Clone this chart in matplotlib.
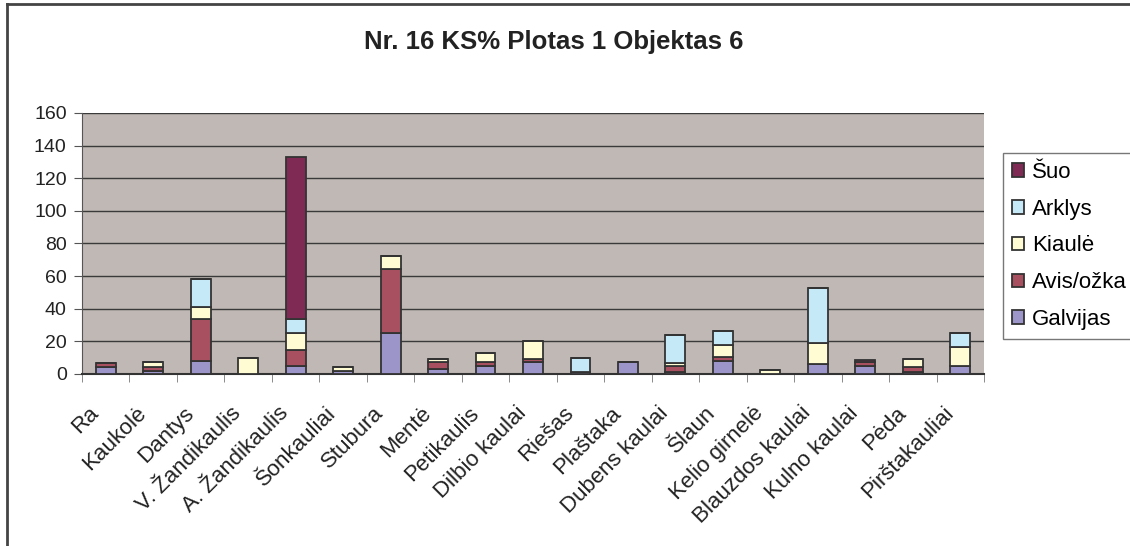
import matplotlib.pyplot as plt
import matplotlib.transforms as mtransforms
import numpy as np

plt.rcParams['font.family'] = ['Liberation Sans', 'DejaVu Sans']

# category labels as they appear (some truncated in the original)
categories = ['Ra', 'Kaukolė', 'Dantys', 'V. Žandikaulis', 'A. Žandikaulis',
              'Šonkauliai', 'Stubura', 'Mentė', 'Petikaulis', 'Dilbio kaulai',
              'Riešas', 'Plaštaka', 'Dubens kaulai', 'Šlaun', 'Kelio girnelė',
              'Blauzdos kaulai', 'Kulno kaulai', 'Pėda', 'Pirštakauliai']

galvijas = [4, 2, 8.2, 0, 5.1, 2, 25.4, 2.9, 5.1, 7.4, 1, 7.4, 1, 8.1, 0, 6.1, 5, 1, 5.1]
avis     = [2.5, 2, 25.5, 0, 9.6, 0, 39, 4.3, 2.1, 1.8, 0, 0, 4, 2.5, 0, 0, 2.5, 3, 0]
kiaule   = [0, 3.4, 7.4, 9.6, 10.7, 2.1, 7.8, 2.2, 5.5, 11.2, 0, 0, 2, 7.3, 2.2, 12.8, 0, 5.5, 11.6]
arklys   = [0, 0, 17, 0, 8.3, 0, 0, 0, 0, 0, 8.6, 0, 16.9, 8.5, 0, 33.7, 0, 0, 8.5]
suo      = [0, 0, 0, 0, 99.6, 0, 0, 0, 0, 0, 0, 0, 0, 0, 0, 0, 1, 0, 0]

series = [('Galvijas', galvijas, '#9b95c9'),
          ('Avis/ožka', avis, '#a8505f'),
          ('Kiaulė', kiaule, '#fffbd2'),
          ('Arklys', arklys, '#c6e9f8'),
          ('Šuo', suo, '#7f2a55')]

fig = plt.figure(figsize=(11.3, 5.46), dpi=100)
ax = fig.add_axes([82 / 1130, 1 - 374 / 546, 902 / 1130, 261 / 546])
ax.set_facecolor('#c0b8b5')

x = np.arange(len(categories))
bottom = np.zeros(len(categories))
handles = []
for name, vals, col in series:
    vals = np.array(vals, dtype=float)
    b = ax.bar(x, vals, 0.42, bottom=bottom, color=col, edgecolor='#333333',
               linewidth=1.3, label=name, zorder=3)
    bottom += vals
    handles.append(b)

ax.set_xlim(-0.5, len(categories) - 0.5)
ax.set_ylim(0, 160)
ax.set_yticks(range(0, 161, 20))
ax.yaxis.grid(True, color='#3a3a3a', linewidth=1, zorder=1)
ax.tick_params(axis='y', labelsize=14, length=6, pad=5, color='#555555', labelcolor='#222222')

ax.set_xticks(x)
ax.set_xticklabels(categories, rotation=45, ha='right', va='center',
                   rotation_mode='anchor', fontsize=16, color='#222222')
ax.tick_params(axis='x', length=0, pad=26)
shift = mtransforms.ScaledTranslation(-0.10, 0, fig.dpi_scale_trans)
for lab in ax.get_xticklabels():
    lab.set_transform(lab.get_transform() + shift)
ax.set_xticks(np.arange(-0.5, len(categories)), minor=True)
ax.tick_params(axis='x', which='minor', length=6, color='#777777')

for s in ['top', 'right']:
    ax.spines[s].set_visible(False)
ax.spines['left'].set_color('#555555')
ax.spines['bottom'].set_color('#333333')
ax.spines['bottom'].set_linewidth(1.5)

fig.text(554 / 1130, 1 - 49 / 546, 'Nr. 16 KS% Plotas 1 Objektas 6', ha='center',
         va='baseline', fontsize=18.5, fontweight='bold', color='#222222')

leg = fig.legend(handles[::-1], [s[0] for s in series][::-1],
                 loc='upper left', bbox_to_anchor=(1003 / 1130, 1 - 153 / 546),
                 fontsize=16, frameon=True, fancybox=False, handlelength=0.55,
                 handleheight=0.55, handletextpad=0.36, labelspacing=0.71,
                 borderpad=0.4, borderaxespad=0)
leg.get_frame().set_edgecolor('#555555')
leg.get_frame().set_linewidth(1)

# outer frame (left and top edges visible)
fig.add_artist(plt.Line2D([7 / 1130, 7 / 1130], [0, 1 - 4 / 546], color='#444444', lw=2))
fig.add_artist(plt.Line2D([7 / 1130, 1], [1 - 4 / 546, 1 - 4 / 546], color='#444444', lw=2))

fig.savefig('out.png', dpi=100)
